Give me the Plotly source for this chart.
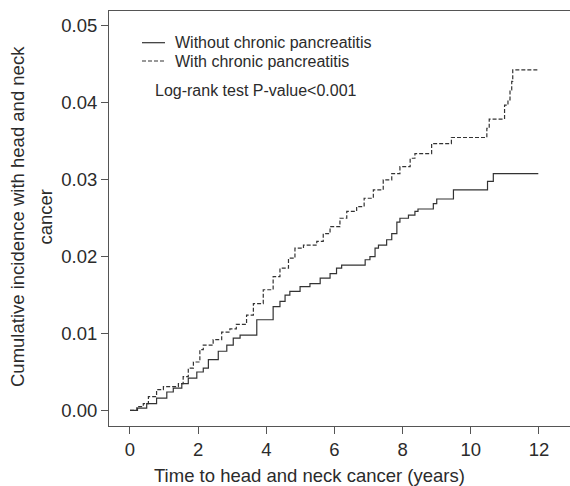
import plotly.graph_objects as go

# Cumulative incidence, without chronic pancreatitis (step function)
without_t = [0, 0.22, 0.49, 0.78, 1.08, 1.27, 1.52, 1.71, 1.96, 2.15, 2.30, 2.59, 2.84, 3.03, 3.23,
             3.72, 4.20, 4.40, 4.55, 4.69, 4.99, 5.28, 5.58, 5.87, 6.06, 6.21, 6.90, 7.04, 7.19,
             7.29, 7.53, 7.68, 7.83, 7.92, 8.17, 8.36, 8.45, 8.90, 9.00, 9.49, 10.49, 10.66, 11.98]
without_y = [0, 0.0003, 0.0009, 0.0016, 0.0024, 0.0029, 0.0035, 0.0042, 0.0050, 0.0055, 0.0066,
             0.0077, 0.0085, 0.0094, 0.0098, 0.0118, 0.0135, 0.0142, 0.0150, 0.0155, 0.0161,
             0.0165, 0.0172, 0.0178, 0.0185, 0.0189, 0.0196, 0.0200, 0.0211, 0.0215, 0.0222,
             0.0230, 0.0245, 0.0250, 0.0254, 0.0259, 0.0262, 0.0269, 0.0275, 0.0287, 0.0298,
             0.0308, 0.0308]

# Cumulative incidence, with chronic pancreatitis (step function)
with_t = [0, 0.20, 0.39, 0.54, 0.78, 0.98, 1.42, 1.56, 1.71, 1.86, 2.05, 2.15, 2.44, 2.69, 2.93,
          3.12, 3.42, 3.62, 3.91, 4.20, 4.40, 4.65, 4.84, 5.09, 5.48, 5.67, 5.87, 6.16, 6.36,
          6.65, 6.87, 7.14, 7.43, 7.68, 7.92, 8.22, 8.36, 8.85, 9.43, 10.47, 10.54, 10.99,
          11.09, 11.15, 11.20, 11.23, 11.97]
with_y = [0, 0.0005, 0.0009, 0.0018, 0.0027, 0.0031, 0.0035, 0.0044, 0.0055, 0.0063, 0.0079,
          0.0085, 0.0092, 0.0102, 0.0106, 0.0112, 0.0124, 0.0139, 0.0157, 0.0174, 0.0185,
          0.0198, 0.0211, 0.0215, 0.0220, 0.0230, 0.0239, 0.0250, 0.0259, 0.0265, 0.0276,
          0.0287, 0.0300, 0.0308, 0.0317, 0.0328, 0.0334, 0.0347, 0.0355, 0.0367, 0.0379,
          0.0397, 0.0404, 0.0417, 0.0428, 0.0443, 0.0443]

x_ticks = [0, 2, 4, 6, 8, 10, 12]
y_ticks = [0.00, 0.01, 0.02, 0.03, 0.04, 0.05]
y_ticklabels = ["0.00", "0.01", "0.02", "0.03", "0.04", "0.05"]

series_names = ["Without chronic pancreatitis", "With chronic pancreatitis"]
pvalue_text = "Log-rank test P-value<0.001"
x_title = "Time to head and neck cancer (years)"
y_title_lines = ["Cumulative incidence with head and neck", "cancer"]

FONT = "Liberation Sans, Arial, Helvetica, sans-serif"
TXT = "#2b2b2b"
AX = "#555555"
LINE = "#333333"
DASH = "4px,2px"

fig = go.Figure()
fig.add_trace(go.Scatter(x=without_t, y=without_y, mode="lines", line_shape="hv",
                         line=dict(color=LINE, width=1.2), name=series_names[0], showlegend=False))
fig.add_trace(go.Scatter(x=with_t, y=with_y, mode="lines", line_shape="hv",
                         line=dict(color=LINE, width=1.2, dash=DASH), name=series_names[1],
                         showlegend=False))

L, R, T, B = 109, 0, 11, 60
W, H = 570, 486
pw, ph = W - L - R, H - T - B

def px(xpix):
    return (xpix - L) / pw

def py(ypix):
    return (T + ph - ypix) / ph

# legend drawn manually
fig.add_shape(type="line", xref="paper", yref="paper", x0=px(142), x1=px(165), y0=py(42.7), y1=py(42.7),
              line=dict(color=LINE, width=1.2))
fig.add_shape(type="line", xref="paper", yref="paper", x0=px(142), x1=px(165), y0=py(61), y1=py(61),
              line=dict(color=LINE, width=1.2, dash=DASH))

annos = [
    dict(text=series_names[0], x=px(173), y=py(42.7), xanchor="left", yanchor="middle", font=dict(size=16)),
    dict(text=series_names[1], x=px(173), y=py(61), xanchor="left", yanchor="middle", font=dict(size=16)),
    dict(text=pvalue_text, x=px(153), y=py(90.5), xanchor="left", yanchor="middle", font=dict(size=16)),
    dict(text=x_title, x=px(309.5), y=py(475), xanchor="center", yanchor="middle", font=dict(size=18.5)),
    dict(text=y_title_lines[0], x=px(17.5), y=py(216.5), xanchor="center", yanchor="middle",
         textangle=-90, font=dict(size=18.5)),
    dict(text=y_title_lines[1], x=px(45), y=py(216.5), xanchor="center", yanchor="middle",
         textangle=-90, font=dict(size=18.5)),
]
for a in annos:
    a.update(xref="paper", yref="paper", showarrow=False)
    a["font"].update(family=FONT, color=TXT)
    fig.add_annotation(**a)

fig.update_layout(
    width=W, height=H,
    margin=dict(l=L, r=R, t=T, b=B, pad=0),
    paper_bgcolor="white", plot_bgcolor="white",
    font=dict(family=FONT, color=TXT, size=18.5),
    xaxis=dict(range=[-0.616, 12.91], tickmode="array", tickvals=x_ticks,
               ticks="outside", ticklen=7, tickwidth=1, tickcolor=AX,
               showline=True, linecolor=AX, linewidth=1, mirror=True,
               showgrid=False, zeroline=False, tickfont=dict(size=18.5, color=TXT, family=FONT)),
    yaxis=dict(range=[-0.00202, 0.05195], tickmode="array", tickvals=y_ticks, ticktext=y_ticklabels,
               ticks="outside", ticklen=7, tickwidth=1, tickcolor=AX,
               showline=True, linecolor=AX, linewidth=1, mirror=False,
               showgrid=False, zeroline=False, tickfont=dict(size=18.5, color=TXT, family=FONT)),
    showlegend=False,
)

fig.write_html(
    "out.html",
    config={"displayModeBar": False},
    post_script="document.body.style.margin='0';document.body.style.padding='0';"
                "document.documentElement.style.overflow='hidden';",
)
